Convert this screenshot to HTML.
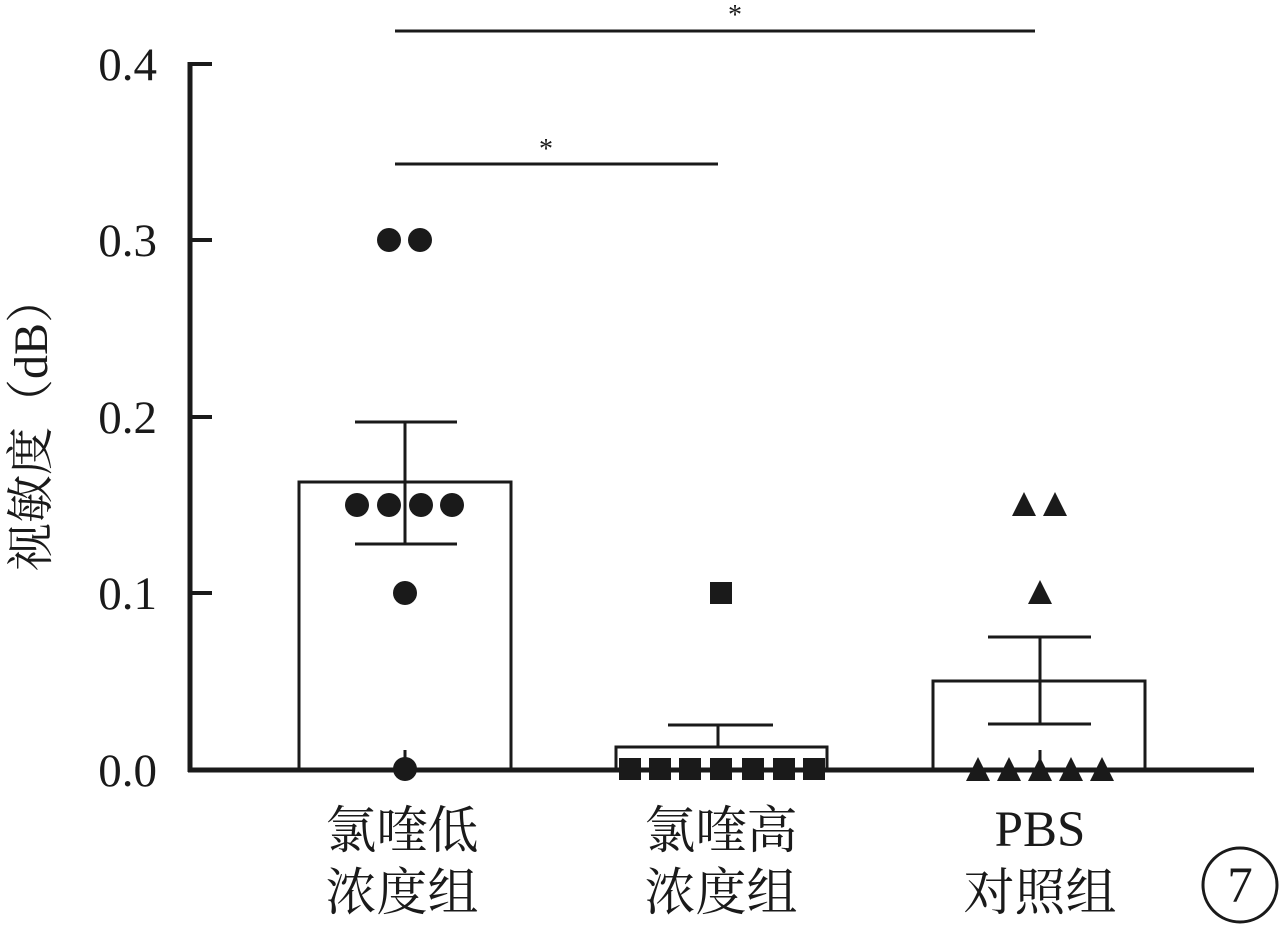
<!DOCTYPE html>
<html><head><meta charset="utf-8"><style>html,body{margin:0;padding:0;background:#fff;}svg{display:block}</style></head>
<body>
<svg width="1281" height="926" viewBox="0 0 1281 926" xmlns="http://www.w3.org/2000/svg" font-family="'Liberation Serif','Noto Serif CJK SC',serif" fill="#1a1a1a">
<g stroke="#1a1a1a" fill="none">
<line x1="190" y1="62" x2="190" y2="772" stroke-width="5"/>
<line x1="188" y1="770" x2="1254" y2="770" stroke-width="5"/>
<g stroke-width="4">
<line x1="190" y1="64" x2="212" y2="64"/>
<line x1="190" y1="240" x2="212" y2="240"/>
<line x1="190" y1="417" x2="212" y2="417"/>
<line x1="190" y1="593" x2="212" y2="593"/>
</g>
<g stroke-width="3">
<rect x="299" y="482" width="212" height="288"/>
<rect x="616" y="747" width="211" height="23"/>
<rect x="933" y="681" width="212" height="89"/>
<line x1="405" y1="422" x2="405" y2="544"/><line x1="355" y1="422" x2="457" y2="422"/><line x1="355" y1="544" x2="457" y2="544"/>
<line x1="718" y1="725" x2="718" y2="747"/><line x1="668" y1="725" x2="773" y2="725"/>
<line x1="1040" y1="637" x2="1040" y2="724"/><line x1="988" y1="637" x2="1091" y2="637"/><line x1="988" y1="724" x2="1091" y2="724"/>
<line x1="405" y1="750" x2="405" y2="770"/><line x1="1040" y1="750" x2="1040" y2="770"/>
<line x1="395" y1="31" x2="1035" y2="31"/>
<line x1="395" y1="164" x2="718" y2="164"/>
</g>
<circle cx="1240" cy="885" r="37" stroke-width="3"/>
</g>
<g>
<circle cx="389" cy="240" r="12"/><circle cx="420" cy="240" r="12"/>
<circle cx="357" cy="505" r="12"/><circle cx="389" cy="505" r="12"/><circle cx="421" cy="505" r="12"/><circle cx="452" cy="505" r="12"/>
<circle cx="405" cy="593" r="12"/><circle cx="405" cy="769" r="12"/>
<rect x="710" y="582" width="22" height="22"/>
<rect x="619" y="758" width="22" height="22"/><rect x="649" y="758" width="22" height="22"/><rect x="679" y="758" width="22" height="22"/><rect x="710" y="758" width="22" height="22"/><rect x="742" y="758" width="22" height="22"/><rect x="773" y="758" width="22" height="22"/><rect x="803" y="758" width="22" height="22"/>
<polygon points="1024,492 1036,516 1012,516"/><polygon points="1055,492 1067,516 1043,516"/>
<polygon points="1040,580 1052,604 1028,604"/>
<polygon points="978,757 990,781 966,781"/><polygon points="1009,757 1021,781 997,781"/><polygon points="1040,757 1052,781 1028,781"/><polygon points="1071,757 1083,781 1059,781"/><polygon points="1102,757 1114,781 1090,781"/>
</g>
<g font-size="47" text-anchor="end">
<text x="157" y="80">0.4</text><text x="157" y="256">0.3</text><text x="157" y="433">0.2</text><text x="157" y="609">0.1</text><text x="157" y="786">0.0</text>
</g>
<text x="735" y="24" font-size="28" text-anchor="middle">*</text>
<text x="546" y="158" font-size="28" text-anchor="middle">*</text>
<text transform="translate(47,423) rotate(-90)" font-size="48" text-anchor="middle">视敏度（dB）</text>
<g font-size="51" text-anchor="middle">
<text x="402" y="848">氯喹低</text><text x="402" y="910">浓度组</text>
<text x="721" y="848">氯喹高</text><text x="721" y="910">浓度组</text>
<text x="1040" y="846">PBS</text><text x="1040" y="910">对照组</text>
<text x="1240" y="902">7</text>
</g>
</svg>
</body></html>
